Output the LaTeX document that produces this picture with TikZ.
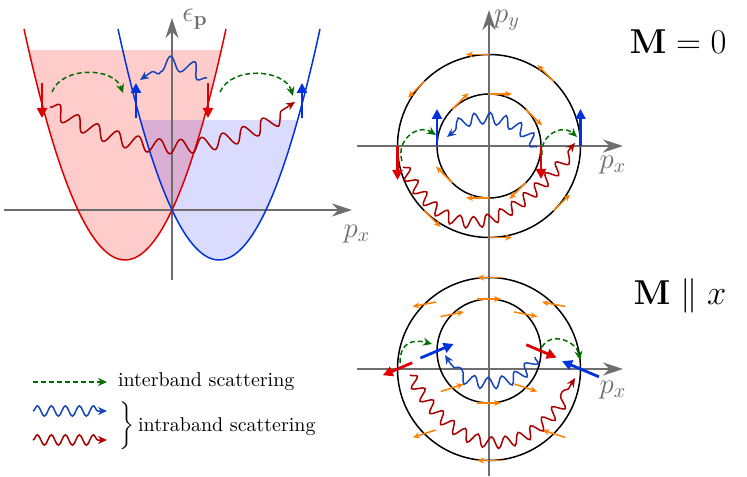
\documentclass[tikz,border=0pt]{standalone}
\usepackage{amsmath}
\usetikzlibrary{arrows.meta,decorations.pathmorphing}

\definecolor{bandred}{RGB}{221,0,0}
\definecolor{bandblue}{RGB}{0,51,221}
\definecolor{wavered}{RGB}{170,0,0}
\definecolor{waveblue}{RGB}{20,70,185}
\definecolor{intergreen}{RGB}{0,110,0}
\definecolor{spinorange}{RGB}{255,128,0}
\definecolor{axisgray}{RGB}{110,110,110}

\begin{document}
\begin{tikzpicture}[x=0.5pt, y=0.5pt,
  axis/.style={axisgray, line width=1pt, -{Stealth[length=10pt, width=6.5pt]}},
  axislabel/.style={axisgray, font=\Large, inner sep=0.5pt},
  band/.style={line width=0.75pt},
  fermi/.style={black, line width=0.75pt},
  spin/.style={line width=1.4pt, -{Triangle[length=5pt, width=5pt]}},
  texture/.style={spinorange, line width=0.75pt, -{Stealth[length=3.5pt, width=3pt]}},
  inter/.style={intergreen, line width=0.75pt, dash pattern=on 2.5pt off 1.5pt,
    -{Stealth[length=4.5pt, width=4pt]}},
  intra/.style={line width=0.75pt, -{Stealth[length=4.5pt, width=4pt]}, decorate,
    decoration={snake, amplitude=3.6pt, segment length=11pt, post length=5pt}},
  smallwave/.style={decoration={amplitude=2.9pt, segment length=7.5pt}},
  legendwave/.style={decoration={amplitude=2.6pt, segment length=7pt, post length=4pt}},
]
  \useasboundingbox (0,0) rectangle (747,476);

  % ---- dispersion ----
  \begin{scope}[shift={(172,266)}]
    % occupied states
    \fill[red, fill opacity=0.2] plot[domain=-143.3:49.3, samples=60]
      (\x, {0.02264*(\x+47)*(\x+47)-50}) -- cycle;
    \fill[blue, fill opacity=0.14] plot[domain=-31.6:125.6, samples=60]
      (\x, {0.02264*(\x-47)*(\x-47)-50}) -- cycle;

    % axes
    \draw[axis] (-168,0) -- (180,0);
    \draw[axis] (0,-70) -- (0,192);
    \node[axislabel] (ep) at (23,191) {$\epsilon_{\mathbf p}$};
    \node[axislabel] (pxl) at (185,-24) {$p_x$};

    % the two bands
    \draw[band, bandred] plot[domain=-148:54, samples=80] (\x, {0.02264*(\x+47)*(\x+47)-50});
    \draw[band, bandblue] plot[domain=-54:148, samples=80] (\x, {0.02264*(\x-47)*(\x-47)-50});

    % spins at the Fermi level
    \coordinate (rl) at (-130,106);
    \coordinate (bl) at (-36,106);
    \coordinate (rr) at (36,106);
    \coordinate (br) at (130,106);
    \draw[spin, bandred] (rl) ++(0,21) -- ++(0,-35);
    \draw[spin, bandblue] (bl) ++(0,-14) -- ++(0,35);
    \draw[spin, bandred] (rr) ++(0,21) -- ++(0,-35);
    \draw[spin, bandblue] (br) ++(0,-14) -- ++(0,35);

    % scattering
    \coordinate (g1a) at (-120,118);
    \coordinate (g1b) at (-49,117);
    \coordinate (g2a) at (48,118);
    \coordinate (g2b) at (121,114);
    \draw[inter] (g1a) to[bend left=70] (g1b);
    \draw[inter] (g2a) to[bend left=70] (g2b);
    \coordinate (w1a) at (35,132);
    \coordinate (w1b) at (-32,130);
    \draw[intra, waveblue] (w1a) to[bend right=38] (w1b);
    \coordinate (w2a) at (-122,103);
    \coordinate (w2b) at (123,108);
    \draw[intra, wavered] (w2a) to[bend right=33] (w2b);
  \end{scope}

  % ---- Fermi contours, M = 0 ----
  \begin{scope}[shift={(489,330)}]
    \draw[fermi] (0,0) circle[radius=91.5];
    \draw[fermi] (0,0) circle[radius=52];
    \draw[axis] (-132,0) -- (134,0);
    \draw[axis] (0,-330) -- (0,136);
    \node[axislabel] (pyl) at (18,126) {$p_y$};
    \node[axislabel] (pxt) at (124,-19) {$p_x$};

    % spin texture
    \foreach \t in {45,90,135,225,270,315} {
      \draw[texture] (\t:91.5) -- ++(\t+90:23);
      \draw[texture] (\t:52) -- ++(\t-90:23);
    }
    \draw[spin, bandred] (180:91.5) -- ++(0,-34);
    \draw[spin, bandblue] (180:52) -- ++(0,37);
    \draw[spin, bandred] (0:52) -- ++(0,-33);
    \draw[spin, bandblue] (0:91.5) -- ++(0,37);

    % scattering
    \coordinate (tg1a) at (-87,-15);
    \coordinate (tg1b) at (-53,11);
    \coordinate (tg2a) at (53,-9);
    \coordinate (tg2b) at (88,9);
    \draw[inter] (tg1a) to[bend left=70, looseness=1.3] (tg1b);
    \draw[inter] (tg2a) to[bend left=70, looseness=1.3] (tg2b);
    \coordinate (tw1a) at (48,-1);
    \coordinate (tw1b) at (-42,9);
    \draw[intra, smallwave, waveblue] (tw1a) to[bend right=50] (tw1b);
    \coordinate (tw2a) at (-86,-21);
    \coordinate (tw2b) at (86,3);
    \draw[intra, smallwave, wavered] (tw2a) to[out=-60, in=-130, looseness=1.5] (tw2b);
  \end{scope}

  % ---- Fermi contours, M || x ----
  \begin{scope}[shift={(489,107)}]
    \draw[fermi] (0,0) circle[radius=91.5];
    \draw[axis] (-132,0) -- (134,0);
    \node[axislabel] (pxb) at (124,-21) {$p_x$};

    \foreach \t/\dir in {45/169, 90/180, 135/191, 225/198, 270/180, 315/162}
      \draw[texture] (\t:91.5) ++(\dir:-12) -- ++(\dir:24);
    \draw[spin, bandred] (180:91.5) ++(203:-16) -- ++(203:32);
    \draw[spin, bandblue] (0:91.5) ++(157:-20) -- ++(157:40);

    % inner contour is shifted up
    \begin{scope}[shift={(0,18)}]
      \draw[fermi] (0,0) circle[radius=52];
      \foreach \t/\dir in {45/-11, 90/0, 135/11, 225/18, 270/0, 315/-18}
        \draw[texture] (\t:52) ++(\dir:-12) -- ++(\dir:24);
      \draw[spin, bandblue] (180:52) ++(23:-18) -- ++(23:36);
      \draw[spin, bandred] (0:52) ++(-23:-16) -- ++(-23:33);
    \end{scope}

    % scattering
    \coordinate (bg1a) at (-89,6);
    \coordinate (bg1b) at (-57,25);
    \coordinate (bg2a) at (53,22);
    \coordinate (bg2b) at (91,9);
    \draw[inter] (bg1a) to[out=90, in=165, looseness=1.4] (bg1b);
    \draw[inter] (bg2a) to[out=60, in=100, looseness=1.2] (bg2b);
    \coordinate (bw1a) at (46,12);
    \coordinate (bw1b) at (-44,14);
    \draw[intra, smallwave, waveblue] (bw1a) to[bend left=65] (bw1b);
    \coordinate (bw2a) at (-79,-6);
    \coordinate (bw2b) at (86,-9);
    \draw[intra, smallwave, wavered] (bw2a) to[out=-60, in=-120, looseness=1.5] (bw2b);
  \end{scope}

  % labels
  \node (mzero) at (678,434) {\LARGE$\mathbf{M}=0$};
  \node (mpar) at (680,180) {\LARGE$\mathbf{M}\parallel x$};

  % legend
  \node[anchor=west] (interlbl) at (111,94) {interband scattering};
  \coordinate (lg1) at (33,94);
  \draw[inter] (lg1) -- ([xshift=-2pt]interlbl.west);
  \node[anchor=west, inner sep=0pt] (intralbl) at (117,50)
    {$\left.\rule[-9.5pt]{0pt}{24pt}\right\}$\,intraband scattering};
  \coordinate (lb1) at (33,65);
  \coordinate (lb2) at (107,65);
  \coordinate (lr1) at (33,36);
  \coordinate (lr2) at (107,36);
  \draw[intra, legendwave, waveblue] (lb1) -- (lb2);
  \draw[intra, legendwave, wavered] (lr1) -- (lr2);
\end{tikzpicture}
\end{document}
